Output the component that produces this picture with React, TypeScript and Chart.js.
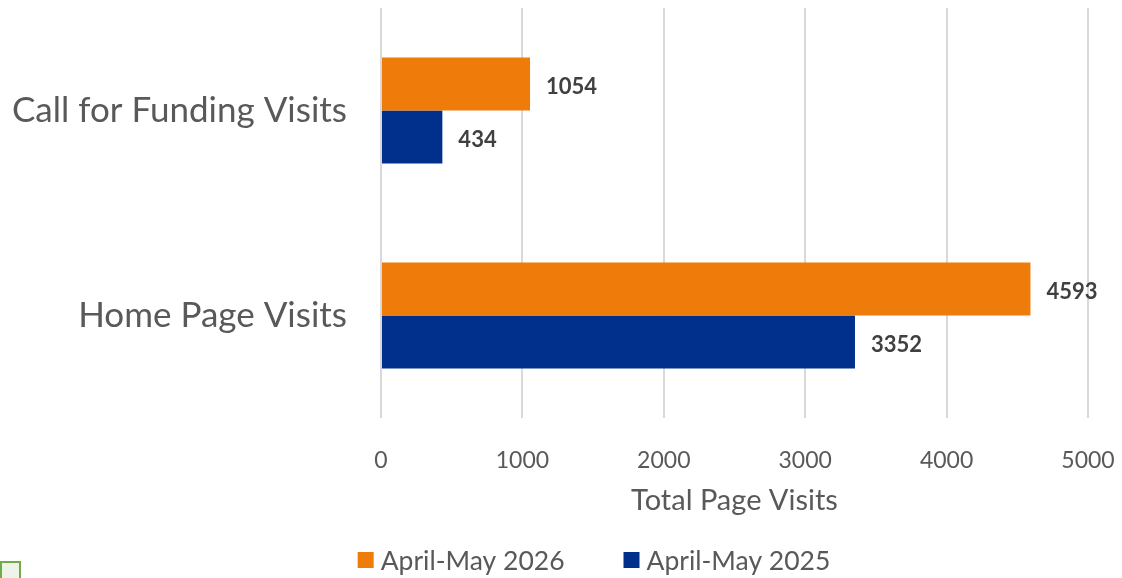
import React, { useEffect, useRef } from "react";
import { Chart, registerables } from "chart.js";

Chart.register(...registerables);

const categories = ["Call for Funding Visits", "Home Page Visits"];
const seriesNames = ["April-May 2026", "April-May 2025"];
const values2026 = [1054, 4593];
const values2025 = [434, 3352];
const xTickValues = [0, 1000, 2000, 3000, 4000, 5000];
const seriesColors = ["#EF7B0B", "#00308C"];

const FONT = "Lato, 'Open Sans', sans-serif";
const TEXT = "#595959";

const valueLabelPlugin = {
  id: "valueLabels",
  afterDatasetsDraw(chart: any) {
    const ctx = chart.ctx;
    ctx.save();
    ctx.font = `bold 22px ${FONT}`;
    ctx.fillStyle = "#404040";
    ctx.textBaseline = "middle";
    ctx.textAlign = "left";
    chart.data.datasets.forEach((ds: any, i: number) => {
      const meta = chart.getDatasetMeta(i);
      meta.data.forEach((bar: any, j: number) => {
        ctx.fillText(String(ds.data[j]), bar.x + 16, bar.y + 3);
      });
    });
    ctx.restore();
  },
};

const bottomLegendPlugin = {
  id: "bottomLegend",
  afterDraw(chart: any) {
    const ctx = chart.ctx;
    const box = 16;
    const gap = 7;
    const spacing = 59;
    const centerX = 594;
    const centerY = 560;
    ctx.save();
    ctx.font = `26.5px ${FONT}`;
    ctx.textBaseline = "middle";
    ctx.textAlign = "left";
    const items = chart.data.datasets.map((ds: any) => ({
      text: ds.label,
      color: ds.backgroundColor,
      w: ctx.measureText(ds.label).width,
    }));
    const total =
      items.reduce((s: number, it: any) => s + box + gap + it.w, 0) +
      spacing * (items.length - 1);
    let x = centerX - total / 2;
    items.forEach((it: any) => {
      ctx.fillStyle = it.color;
      ctx.fillRect(x, centerY - box / 2, box, box);
      ctx.fillStyle = TEXT;
      ctx.fillText(it.text, x + box + gap, centerY + 1);
      x += box + gap + it.w + spacing;
    });
    ctx.restore();
  },
};

export default function App() {
  const canvasRef = useRef<HTMLCanvasElement | null>(null);

  useEffect(() => {
    if (!canvasRef.current) return;
    const chart = new Chart(canvasRef.current, {
      type: "bar",
      data: {
        labels: categories,
        datasets: [
          {
            label: seriesNames[0],
            data: values2026,
            backgroundColor: seriesColors[0],
            barPercentage: 1,
            categoryPercentage: 0.517,
          },
          {
            label: seriesNames[1],
            data: values2025,
            backgroundColor: seriesColors[1],
            barPercentage: 1,
            categoryPercentage: 0.517,
          },
        ],
      },
      options: {
        indexAxis: "y",
        responsive: false,
        animation: false,
        layout: { padding: { top: 8, right: 34, left: 0, bottom: 60 } },
        scales: {
          x: {
            min: 0,
            max: 5000,
            afterBuildTicks: (scale: any) => {
              scale.ticks = xTickValues.map((v) => ({ value: v }));
            },
            ticks: {
              font: { family: FONT, size: 23 },
              color: TEXT,
              padding: 29,
              callback: (v: any) => String(v),
            },
            grid: { color: "#D9D9D9", lineWidth: 2, drawTicks: false },
            border: { display: false },
            title: {
              display: true,
              text: "Total Page Visits",
              font: { family: FONT, size: 29 },
              color: TEXT,
              padding: { top: 0, bottom: 0 },
            },
            afterFit: (scale: any) => {
              scale.height = 100;
              scale.paddingLeft = 0;
              scale.paddingRight = 0;
            },
          },
          y: {
            grid: { display: false },
            border: { display: false },
            ticks: {
              font: { family: FONT, size: 35 },
              color: TEXT,
              padding: 26,
            },
            afterFit: (scale: any) => {
              scale.width = 381;
              scale.paddingTop = 0;
              scale.paddingBottom = 0;
            },
          },
        },
        plugins: {
          legend: { display: false },
          tooltip: { enabled: false },
        },
      },
      plugins: [valueLabelPlugin, bottomLegendPlugin],
    });
    return () => chart.destroy();
  }, []);

  return (
    <div
      style={{
        position: "fixed",
        left: 0,
        top: 0,
        width: 1122,
        height: 578,
        background: "#fff",
        overflow: "hidden",
      }}
    >
      <canvas ref={canvasRef} width={1122} height={578} />
      <div
        style={{
          position: "absolute",
          left: 0,
          top: 561,
          width: 21,
          height: 20,
          boxSizing: "border-box",
          border: "2px solid #70AD47",
          background: "#EEF5E8",
        }}
      />
    </div>
  );
}
